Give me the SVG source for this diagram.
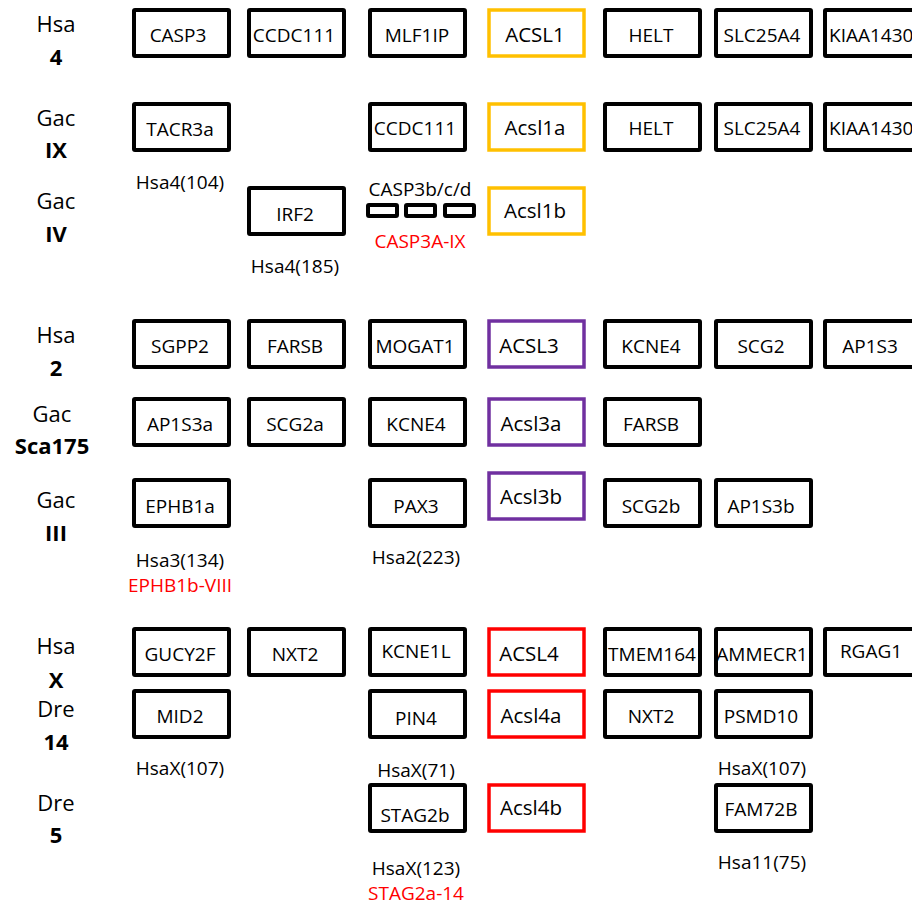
<svg xmlns="http://www.w3.org/2000/svg" width="912" height="905" viewBox="0 0 912 905">
<style>
text{font-family:"Open Sans","Noto Sans","Liberation Sans",sans-serif;fill:#000;text-anchor:middle}
.g{font-size:19px}
.c{font-size:20.5px}
.n{font-size:19px}
.r{fill:#FF0000}
.lab{font-size:22px}
.b{font-weight:bold}
.bx{fill:#fff;stroke:#000;stroke-width:4;rx:1}
.sm{fill:#fff;stroke:#000;stroke-width:4;rx:1}
.o{fill:#fff;stroke:#FFC000;stroke-width:3.5}
.p{fill:#fff;stroke:#7030A0;stroke-width:3.5}
.rd{fill:#fff;stroke:#FF0000;stroke-width:3.5}
</style>
<rect width="912" height="905" fill="#fff"/>
<g id="labels">
<text class="lab" x="56" y="32">Hsa</text><text class="lab b" x="56" y="65">4</text>
<text class="lab" x="56" y="126">Gac</text><text class="lab b" x="56" y="158">IX</text>
<text class="lab" x="56" y="209">Gac</text><text class="lab b" x="56" y="242">IV</text>
<text class="lab" x="56" y="343">Hsa</text><text class="lab b" x="56" y="376">2</text>
<text class="lab" x="52" y="422">Gac</text><text class="lab b" x="52" y="454">Sca175</text>
<text class="lab" x="56" y="508">Gac</text><text class="lab b" x="56" y="541">III</text>
<text class="lab" x="56" y="654">Hsa</text><text class="lab b" x="56" y="688">X</text>
<text class="lab" x="56" y="717">Dre</text><text class="lab b" x="56" y="750">14</text>
<text class="lab" x="56" y="811">Dre</text><text class="lab b" x="56" y="843">5</text>
</g>
<g id="connectors"></g>
<!-- Block 1 -->
<g id="hsa4-casp3"><rect class="bx" x="134" y="10" width="95" height="46"/><text class="g" x="178" y="42">CASP3</text></g>
<g id="hsa4-ccdc111"><rect class="bx" x="249" y="10" width="95" height="46"/><text class="g" x="294" y="42">CCDC111</text></g>
<g id="hsa4-mlf1ip"><rect class="bx" x="370" y="10" width="95" height="46"/><text class="g" x="417" y="42">MLF1IP</text></g>
<g id="hsa4-acsl1"><rect class="o" x="489" y="10" width="95" height="46"/><text class="c" x="535" y="42">ACSL1</text></g>
<g id="hsa4-helt"><rect class="bx" x="605" y="10" width="95" height="46"/><text class="g" x="651" y="42">HELT</text></g>
<g id="hsa4-slc25a4"><rect class="bx" x="716" y="10" width="95" height="46"/><text class="g" x="762" y="42">SLC25A4</text></g>
<g id="hsa4-kiaa1430"><rect class="bx" x="825" y="10" width="95" height="46"/><text class="g" x="829" y="42" style="text-anchor:start">KIAA1430</text></g>

<g id="gac9-tacr3a"><rect class="bx" x="134" y="104" width="95" height="46"/><text class="g" x="180" y="136">TACR3a</text></g>
<g id="gac9-ccdc111"><rect class="bx" x="370" y="104" width="95" height="46"/><text class="g" x="415" y="135">CCDC111</text></g>
<g id="gac9-acsl1a"><rect class="o" x="489" y="104" width="95" height="46"/><text class="c" x="535" y="135">Acsl1a</text></g>
<g id="gac9-helt"><rect class="bx" x="605" y="104" width="95" height="46"/><text class="g" x="651" y="135">HELT</text></g>
<g id="gac9-slc25a4"><rect class="bx" x="716" y="104" width="95" height="46"/><text class="g" x="762" y="135">SLC25A4</text></g>
<g id="gac9-kiaa1430"><rect class="bx" x="825" y="104" width="95" height="46"/><text class="g" x="829" y="135" style="text-anchor:start">KIAA1430</text></g>
<g id="note-hsa4-104"><text class="n" x="180" y="189">Hsa4(104)</text></g>

<g id="gac4-irf2"><rect class="bx" x="249" y="188" width="95" height="46"/><text class="g" x="295" y="221">IRF2</text></g>
<g id="note-hsa4-185"><text class="n" x="295" y="273">Hsa4(185)</text></g>
<g id="gac4-casp3bcd"><text class="n" x="420" y="196">CASP3b/c/d</text>
<rect class="sm" x="368" y="205" width="29" height="11"/><rect class="sm" x="406" y="205" width="29" height="11"/><rect class="sm" x="445" y="205" width="29" height="11"/>
<text class="n r" x="420" y="248">CASP3A-IX</text></g>
<g id="gac4-acsl1b"><rect class="o" x="489" y="188" width="95" height="46"/><text class="c" x="535" y="218">Acsl1b</text></g>

<!-- Block 2 -->
<g id="hsa2-sgpp2"><rect class="bx" x="134" y="321" width="95" height="46"/><text class="g" x="180" y="353">SGPP2</text></g>
<g id="hsa2-farsb"><rect class="bx" x="249" y="321" width="95" height="46"/><text class="g" x="295" y="353">FARSB</text></g>
<g id="hsa2-mogat1"><rect class="bx" x="370" y="321" width="95" height="46"/><text class="g" x="415" y="353">MOGAT1</text></g>
<g id="hsa2-acsl3"><rect class="p" x="489" y="321" width="95" height="46"/><text class="c" x="529" y="353">ACSL3</text></g>
<g id="hsa2-kcne4"><rect class="bx" x="605" y="321" width="95" height="46"/><text class="g" x="651" y="353">KCNE4</text></g>
<g id="hsa2-scg2"><rect class="bx" x="716" y="321" width="95" height="46"/><text class="g" x="761" y="353">SCG2</text></g>
<g id="hsa2-ap1s3"><rect class="bx" x="825" y="321" width="95" height="46"/><text class="g" x="870" y="353">AP1S3</text></g>

<g id="sca175-ap1s3a"><rect class="bx" x="134" y="399" width="95" height="46"/><text class="g" x="180" y="431">AP1S3a</text></g>
<g id="sca175-scg2a"><rect class="bx" x="249" y="399" width="95" height="46"/><text class="g" x="295" y="431">SCG2a</text></g>
<g id="sca175-kcne4"><rect class="bx" x="370" y="399" width="95" height="46"/><text class="g" x="416" y="431">KCNE4</text></g>
<g id="sca175-acsl3a"><rect class="p" x="489" y="399" width="95" height="46"/><text class="c" x="531" y="431">Acsl3a</text></g>
<g id="sca175-farsb"><rect class="bx" x="605" y="399" width="95" height="46"/><text class="g" x="651" y="431">FARSB</text></g>

<g id="gac3-ephb1a"><rect class="bx" x="134" y="480" width="95" height="46"/><text class="g" x="180" y="513">EPHB1a</text></g>
<g id="gac3-pax3"><rect class="bx" x="370" y="480" width="95" height="46"/><text class="g" x="416" y="513">PAX3</text></g>
<g id="gac3-acsl3b"><rect class="p" x="489" y="473" width="95" height="46"/><text class="c" x="531" y="504">Acsl3b</text></g>
<g id="gac3-scg2b"><rect class="bx" x="605" y="480" width="95" height="46"/><text class="g" x="651" y="513">SCG2b</text></g>
<g id="gac3-ap1s3b"><rect class="bx" x="716" y="480" width="95" height="46"/><text class="g" x="761" y="513">AP1S3b</text></g>
<g id="note-hsa3-134"><text class="n" x="180" y="567">Hsa3(134)</text><text class="n r" x="180" y="592">EPHB1b-VIII</text></g>
<g id="note-hsa2-223"><text class="n" x="416" y="564">Hsa2(223)</text></g>

<!-- Block 3 -->
<g id="hsax-gucy2f"><rect class="bx" x="134" y="629" width="95" height="46"/><text class="g" x="180" y="661">GUCY2F</text></g>
<g id="hsax-nxt2"><rect class="bx" x="249" y="629" width="95" height="46"/><text class="g" x="295" y="661">NXT2</text></g>
<g id="hsax-kcne1l"><rect class="bx" x="370" y="629" width="95" height="46"/><text class="g" x="416" y="658">KCNE1L</text></g>
<g id="hsax-acsl4"><rect class="rd" x="489" y="629" width="95" height="46"/><text class="c" x="529" y="661">ACSL4</text></g>
<g id="hsax-tmem164"><rect class="bx" x="605" y="629" width="95" height="46"/><text class="g" x="652" y="661">TMEM164</text></g>
<g id="hsax-ammecr1"><rect class="bx" x="716" y="629" width="95" height="46"/><text class="g" x="762" y="661">AMMECR1</text></g>
<g id="hsax-rgag1"><rect class="bx" x="825" y="629" width="95" height="46"/><text class="g" x="871" y="658">RGAG1</text></g>

<g id="dre14-mid2"><rect class="bx" x="134" y="691" width="95" height="46"/><text class="g" x="180" y="723">MID2</text></g>
<g id="dre14-pin4"><rect class="bx" x="370" y="691" width="95" height="46"/><text class="g" x="416" y="725">PIN4</text></g>
<g id="dre14-acsl4a"><rect class="rd" x="489" y="691" width="95" height="46"/><text class="c" x="531" y="723">Acsl4a</text></g>
<g id="dre14-nxt2"><rect class="bx" x="605" y="691" width="95" height="46"/><text class="g" x="651" y="723">NXT2</text></g>
<g id="dre14-psmd10"><rect class="bx" x="716" y="691" width="95" height="46"/><text class="g" x="761" y="723">PSMD10</text></g>
<g id="note-hsax-107a"><text class="n" x="180" y="775">HsaX(107)</text></g>
<g id="note-hsax-71"><text class="n" x="416" y="777">HsaX(71)</text></g>
<g id="note-hsax-107b"><text class="n" x="762" y="775">HsaX(107)</text></g>

<g id="dre5-stag2b"><rect class="bx" x="370" y="785" width="95" height="46"/><text class="g" x="415" y="822">STAG2b</text></g>
<g id="dre5-acsl4b"><rect class="rd" x="489" y="785" width="95" height="46"/><text class="c" x="531" y="815">Acsl4b</text></g>
<g id="dre5-fam72b"><rect class="bx" x="716" y="785" width="95" height="46"/><text class="g" x="761" y="816">FAM72B</text></g>
<g id="note-hsax-123"><text class="n" x="416" y="875">HsaX(123)</text><text class="n r" x="416" y="900">STAG2a-14</text></g>
<g id="note-hsa11-75"><text class="n" x="762" y="869">Hsa11(75)</text></g>
</svg>
